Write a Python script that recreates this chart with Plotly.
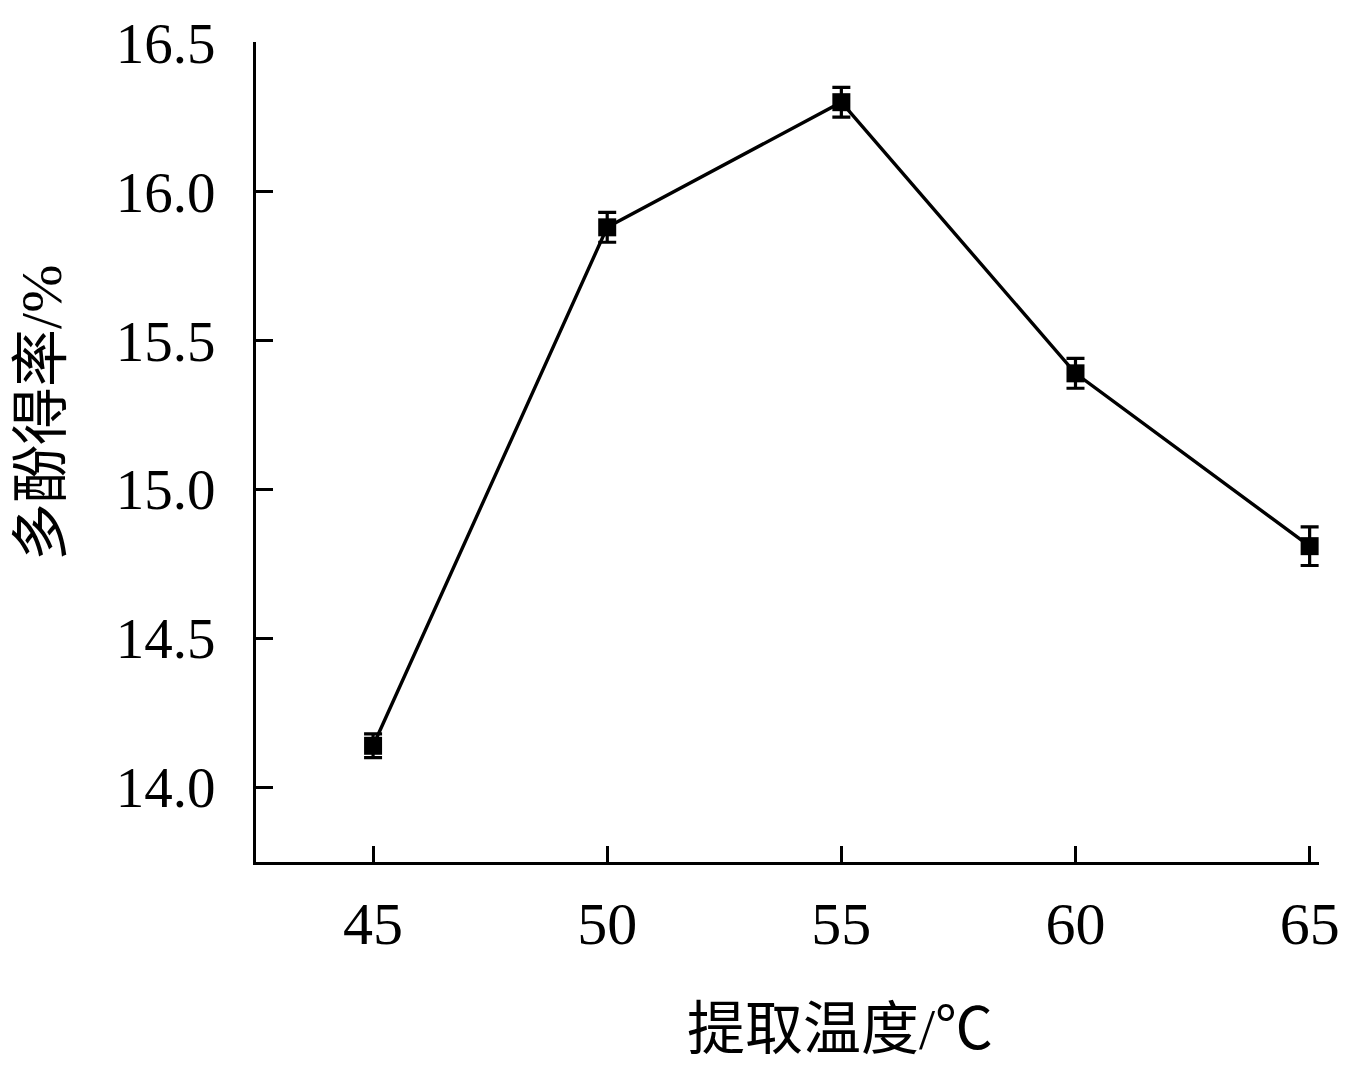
import plotly.graph_objects as go

temps = [45, 50, 55, 60, 65]
yield_pct = [14.14, 15.88, 16.30, 15.39, 14.81]
err = [0.04, 0.05, 0.05, 0.05, 0.065]
y_ticks = [14.0, 14.5, 15.0, 15.5, 16.0, 16.5]
y_tick_text = ["14.0", "14.5", "15.0", "15.5", "16.0", "16.5"]
x_ticks = [45, 50, 55, 60, 65]
x_title = "提取温度/℃"
y_title = "多酚得率/%"

serif = "Liberation Serif, Times New Roman, serif"
cjk = "Liberation Serif, Noto Sans CJK SC, serif"

fig = go.Figure()
fig.add_trace(go.Scatter(
    x=temps, y=yield_pct, mode="lines+markers",
    line=dict(color="black", width=3.4),
    marker=dict(symbol="square", size=18, color="black"),
    error_y=dict(type="data", array=err, visible=True, color="black", thickness=3.2, width=9),
    showlegend=False, cliponaxis=False,
))

fig.update_layout(
    width=1350, height=1078,
    margin=dict(l=248, r=39, t=34, b=224, autoexpand=False),
    paper_bgcolor="white", plot_bgcolor="white",
    xaxis=dict(
        range=[42.5, 65.2], tickvals=x_ticks, ticktext=[str(v) for v in x_ticks],
        ticks="inside", ticklen=16, tickwidth=3, tickcolor="black",
        showline=True, linecolor="black", linewidth=3, showgrid=False, zeroline=False,
        tickfont=dict(family=serif, size=60, color="black"), ticklabelstandoff=7,
        automargin=False, ticklabeloverflow="allow",
    ),
    yaxis=dict(
        range=[13.75, 16.502], tickvals=y_ticks, ticktext=y_tick_text,
        ticks="inside", ticklen=17, tickwidth=3, tickcolor="black",
        showline=True, linecolor="black", linewidth=3, showgrid=False, zeroline=False,
        tickfont=dict(family=serif, size=57, color="black"), ticklabelstandoff=26,
        automargin=False, ticklabeloverflow="allow",
    ),
    annotations=[
        dict(text=x_title, xref="paper", yref="paper", x=0.549, y=-0.204,
             xanchor="center", yanchor="middle", showarrow=False,
             font=dict(family=cjk, size=58, color="black")),
        dict(text=y_title, xref="paper", yref="paper", x=-0.202, y=0.548,
             xanchor="center", yanchor="middle", showarrow=False, textangle=-90,
             font=dict(family=cjk, size=58, color="black")),
    ],
)

fig.write_html("out.html")
